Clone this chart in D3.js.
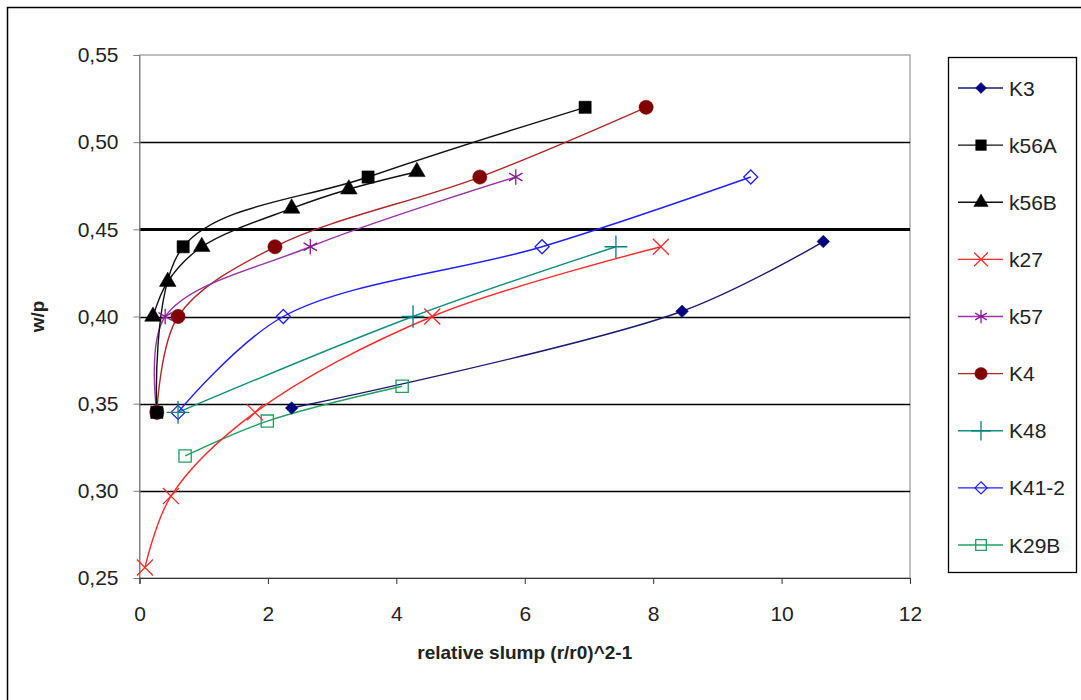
<!DOCTYPE html>
<html>
<head>
<meta charset="utf-8">
<script src="https://cdn.jsdelivr.net/npm/d3@7"></script>
<style>
  body { margin: 0; background: #fff; }
  svg { display: block; font-family: Arial, "Liberation Sans", sans-serif; }
</style>
</head>
<body>
<svg id="chart" width="1081" height="700"></svg>
<script>
// series names (legend order)
const seriesNames = ["K3", "k56A", "k56B", "k27", "k57", "K4", "K48", "K41-2", "K29B"];

// values: x = relative slump, y = w/p
const k3X = [2.37, 8.45, 10.65];
const k3Y = [0.3475, 0.403, 0.443];
const k56aX = [0.27, 0.68, 3.56, 6.94];
const k56aY = [0.345, 0.44, 0.48, 0.52];
const k56bX = [0.21, 0.44, 0.97, 2.37, 3.26, 4.32];
const k56bY = [0.40, 0.42, 0.44, 0.462, 0.473, 0.483];
const k27X = [0.085, 0.49, 1.80, 4.56, 8.12];
const k27Y = [0.256, 0.297, 0.345, 0.40, 0.44];
const k57X = [0.27, 0.40, 2.66, 5.86];
const k57Y = [0.345, 0.40, 0.44, 0.48];
const k4X = [0.27, 0.60, 2.11, 5.3, 7.89];
const k4Y = [0.345, 0.40, 0.44, 0.48, 0.52];
const k48X = [0.60, 4.26, 7.42];
const k48Y = [0.345, 0.40, 0.44];
const k412X = [0.60, 2.24, 6.27, 9.52];
const k412Y = [0.345, 0.40, 0.44, 0.48];
const k29bX = [0.71, 1.99, 4.09];
const k29bY = [0.32, 0.34, 0.36];

const xTicks = [0, 2, 4, 6, 8, 10, 12];
const yTicks = [0.25, 0.30, 0.35, 0.40, 0.45, 0.50, 0.55];

const colors = ["#000080", "#000000", "#000000", "#ff2a2a", "#8a1a9a", "#800000", "#008080", "#2020ff", "#1fa060"];
const lineColors = ["#1a1a70", "#111111", "#111111", "#ff2a2a", "#9933aa", "#b02828", "#109080", "#2020ff", "#1fa060"];
const markers = ["diamond", "square", "triangle", "times", "asterisk", "circle", "plus", "diamondOpen", "squareOpen"];

const allX = [k3X, k56aX, k56bX, k27X, k57X, k4X, k48X, k412X, k29bX];
const allY = [k3Y, k56aY, k56bY, k27Y, k57Y, k4Y, k48Y, k412Y, k29bY];
const series = seriesNames.map((name, i) => ({
    name,
    color: colors[i],
    lineColor: lineColors[i],
    marker: markers[i],
    points: allX[i].map((x, j) => [x, allY[i][j]])
}));

const svg = d3.select("#chart");
const margin = { top: 55, left: 139.5, right: 910, bottom: 578 };

// outer chart border (right and bottom lie outside the picture)
svg.append("rect")
    .attr("x", 7.5).attr("y", 7.5)
    .attr("width", 1100).attr("height", 720)
    .attr("fill", "#fff")
    .attr("stroke", "#000")
    .attr("stroke-width", 1.5);

const xScale = d3.scaleLinear().domain([0, 12]).range([margin.left, margin.right]);
const yScale = d3.scaleLinear().domain([0.25, 0.55]).range([margin.bottom, margin.top]);

// plot area frame
svg.append("rect")
    .attr("x", margin.left).attr("y", margin.top)
    .attr("width", margin.right - margin.left)
    .attr("height", margin.bottom - margin.top)
    .attr("fill", "none")
    .attr("stroke", "#808080")
    .attr("stroke-width", 1);

// gridlines
svg.append("g")
    .selectAll("line")
    .data(yTicks.filter(t => t > 0.26 && t < 0.54))
    .enter()
    .append("line")
    .attr("x1", margin.left).attr("x2", margin.right)
    .attr("y1", d => Math.round(yScale(d)) + 0.5)
    .attr("y2", d => Math.round(yScale(d)) + 0.5)
    .attr("stroke", "#000")
    .attr("stroke-width", d => Math.abs(d - 0.45) < 1e-6 ? 3 : 1.3);

const fmt = d => d3.format(".2f")(d).replace(".", ",");

// y axis
const yAxis = d3.axisLeft(yScale).tickValues(yTicks).tickFormat(fmt).tickSize(6).tickPadding(15);
const gy = svg.append("g")
    .attr("transform", `translate(${margin.left}, 0)`)
    .call(yAxis);
gy.select(".domain").attr("stroke", "#808080");
gy.selectAll(".tick line").attr("stroke", "#808080");
gy.selectAll("text")
    .style("fill", "#222")
    .style("font-size", "21px")
    .style("font-family", "Arial, 'Liberation Sans', sans-serif");

// x axis
const xAxis = d3.axisBottom(xScale).tickValues(xTicks).tickFormat(d3.format("d")).tickSize(6).tickPadding(22);
const gx = svg.append("g")
    .attr("transform", `translate(0, ${margin.bottom})`)
    .call(xAxis);
gx.select(".domain").attr("stroke", "#333");
gx.selectAll(".tick line").attr("stroke", "#333");
gx.selectAll("text")
    .style("fill", "#222")
    .style("font-size", "21px")
    .style("font-family", "Arial, 'Liberation Sans', sans-serif");

// axis titles
svg.append("text")
    .attr("x", (margin.left + margin.right) / 2)
    .attr("y", 659)
    .attr("text-anchor", "middle")
    .style("font-size", "19px")
    .style("font-weight", "bold")
    .style("fill", "#222")
    .text("relative slump (r/r0)^2-1");

svg.append("text")
    .attr("transform", "rotate(-90)")
    .attr("x", -yScale(0.40))
    .attr("y", 44)
    .attr("text-anchor", "middle")
    .style("font-size", "19px")
    .style("font-weight", "bold")
    .style("fill", "#222")
    .text("w/p");

// square diamond like the spreadsheet one (size = area)
const squareDiamond = {
    draw(context, size) {
        const r = Math.sqrt(size / 2);
        context.moveTo(0, -r);
        context.lineTo(r, 0);
        context.lineTo(0, r);
        context.lineTo(-r, 0);
        context.closePath();
    }
};

// marker drawing
function symbolFor(kind) {
    switch (kind) {
        case "diamond": return { type: squareDiamond, size: 80, fill: true };
        case "diamondOpen": return { type: squareDiamond, size: 98, fill: false };
        case "square": return { type: d3.symbolSquare, size: 150, fill: true };
        case "squareOpen": return { type: d3.symbolSquare, size: 150, fill: false };
        case "triangle": return { type: d3.symbolTriangle, size: 120, fill: true };
        case "circle": return { type: d3.symbolCircle, size: 160, fill: true };
        case "times": return { type: d3.symbolTimes || d3.symbolCross, size: 170, fill: false };
        case "plus": return { type: d3.symbolPlus || d3.symbolCross, size: 170, fill: false };
        case "asterisk": return { type: d3.symbolAsterisk || d3.symbolStar, size: 170, fill: false };
    }
}

function drawMarker(g, s, x, y, scale) {
    const m = symbolFor(s.marker);
    g.append("path")
        .attr("transform", `translate(${x}, ${y})`)
        .attr("d", d3.symbol().type(m.type).size(m.size * scale)())
        .attr("fill", m.fill ? s.color : "#fff")
        .attr("fill-opacity", m.fill ? 1 : 0)
        .attr("stroke", s.color)
        .attr("stroke-width", m.fill ? 0.5 : 1.3);
}

const line = d3.line()
    .x(d => xScale(d[0]))
    .y(d => yScale(d[1]))
    .curve(d3.curveCatmullRom.alpha(0.5));

const plot = svg.append("g");

// draw lines (last series first so the legend-order series end on top)
series.slice().reverse().forEach(s => {
    plot.append("path")
        .datum(s.points)
        .attr("d", line)
        .attr("fill", "none")
        .attr("stroke", s.lineColor)
        .attr("stroke-width", 1.4);
});

series.slice().reverse().forEach(s => {
    s.points.forEach(p => drawMarker(plot, s, xScale(p[0]), yScale(p[1]), 1));
});

// legend
svg.append("rect")
    .attr("x", 948.5).attr("y", 57.5)
    .attr("width", 128).attr("height", 515)
    .attr("fill", "#fff")
    .attr("stroke", "#000")
    .attr("stroke-width", 1.3);

const legendY = d3.scalePoint().domain(seriesNames).range([88, 545]);

const legend = svg.append("g");
series.forEach(s => {
    const y = legendY(s.name);
    legend.append("line")
        .attr("x1", 958).attr("x2", 1003)
        .attr("y1", y).attr("y2", y)
        .attr("stroke", s.lineColor)
        .attr("stroke-width", 1.4);
    drawMarker(legend, s, 981, y, 0.75);
    legend.append("text")
        .attr("x", 1009)
        .attr("y", y)
        .attr("dy", "0.36em")
        .style("font-size", "21px")
        .style("fill", "#222")
        .text(s.name);
});
</script>
</body>
</html>
